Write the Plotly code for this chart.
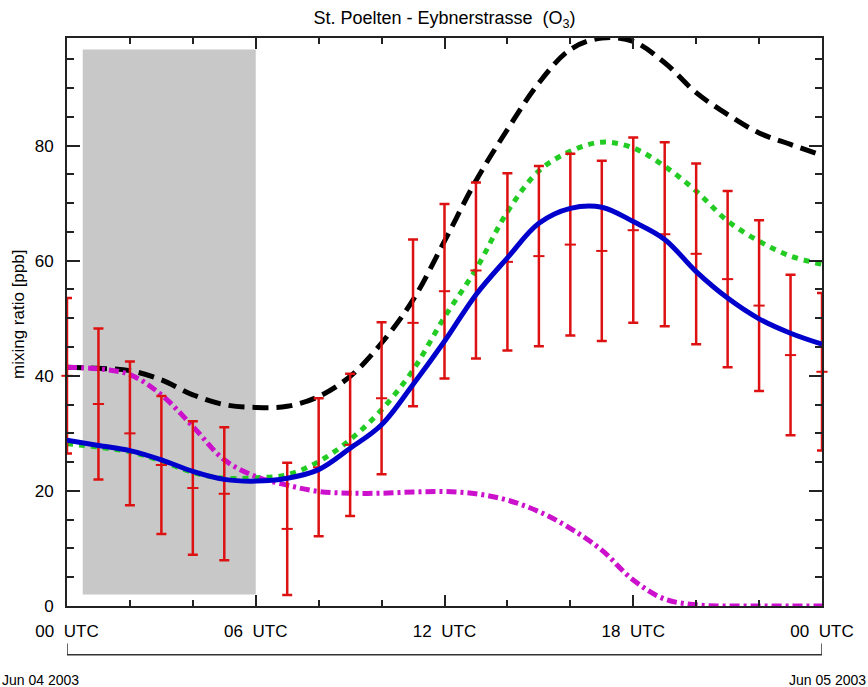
import plotly.graph_objects as go

# ---------------- data ----------------
hours = list(range(0, 25))

obs_mean = [40.0, 35.1, 30.0, 24.5, 20.5, 19.5, None, 13.4, 24.1, 28.0, 36.1, 49.2, 54.7,
            58.3, 59.8, 60.8, 62.8, 61.7, 65.3, 64.6, 61.2, 56.8, 52.2, 43.6, 40.7]
obs_sd = [13.5, 13.1, 12.5, 12.0, 11.6, 11.55, None, 11.5, 12.0, 12.35, 13.2, 14.5, 15.15,
          15.3, 15.4, 15.65, 15.8, 15.65, 16.1, 16.0, 15.7, 15.3, 14.85, 13.95, 13.7]

model_blue = [28.8, 27.9, 27.0, 25.4, 23.4, 22.0, 21.7, 22.2, 23.7, 27.4, 31.5, 38.5, 46.0,
              54.1, 60.5, 66.5, 69.1, 69.3, 66.8, 63.7, 58.1, 53.5, 49.9, 47.4, 45.5]
model_green = [28.2, 27.6, 26.8, 25.2, 23.2, 22.2, 22.3, 22.8, 25.1, 28.9, 34.1, 41.0, 50.2,
               58.5, 68.5, 75.6, 79.0, 80.6, 79.6, 76.4, 72.1, 66.9, 63.4, 60.8, 59.4]
model_black = [41.5, 41.3, 40.9, 39.3, 36.7, 35.0, 34.5, 34.7, 36.4, 39.9, 45.7, 53.2, 63.4,
               73.9, 82.8, 90.9, 96.7, 98.7, 98.1, 94.4, 89.2, 85.4, 82.2, 80.2, 78.3]
model_magenta = [41.5, 41.2, 40.2, 36.7, 31.2, 25.4, 22.5, 21.0, 19.9, 19.6, 19.6, 19.8, 19.9,
                 19.5, 18.4, 16.4, 13.5, 9.7, 4.5, 1.2, 0.2, 0.0, 0.0, 0.0, 0.0]

night_hours = [0.5, 6.0]
night_levels = [2.0, 96.7]

tick_hours = [0, 6, 12, 18, 24]
tick_text = ["00\u00a0 UTC", "06\u00a0 UTC", "12\u00a0 UTC", "18\u00a0 UTC", "00\u00a0 UTC"]
date_labels = ["Jun 04 2003", "Jun 05 2003"]

title = "St. Poelten - Eybnerstrasse\u00a0 (O<sub>3</sub>)"
ytitle = "mixing ratio [ppb]"

FONT = "Liberation Sans, Arial, Helvetica, sans-serif"

fig = go.Figure()

fig.add_shape(type="rect", xref="x", yref="y",
              x0=night_hours[0], x1=night_hours[1], y0=night_levels[0], y1=night_levels[1],
              fillcolor="#c8c8c8", line=dict(width=0), layer="below")

fig.add_trace(go.Scatter(x=hours, y=model_black, mode="lines", line_shape="spline",
                         line=dict(color="black", width=5, dash="16px,8px"), showlegend=False))
fig.add_trace(go.Scatter(x=hours, y=model_green, mode="lines", line_shape="spline",
                         line=dict(color="#22cc22", width=5, dash="6px,6px"), showlegend=False))
fig.add_trace(go.Scatter(x=hours, y=model_magenta, mode="lines", line_shape="spline",
                         line=dict(color="#cc11cc", width=5, dash="10px,4px,3px,4px"), showlegend=False))

fig.add_trace(go.Scatter(x=hours, y=obs_mean, mode="markers",
                         marker=dict(symbol="line-ew", size=8, color="#dd1111",
                                     line=dict(color="#dd1111", width=2)),
                         error_y=dict(type="data", array=obs_sd, visible=True,
                                      color="#dd1111", thickness=2.5, width=5),
                         cliponaxis=False, showlegend=False))

fig.add_trace(go.Scatter(x=hours, y=model_blue, mode="lines", line_shape="spline",
                         line=dict(color="#0000cc", width=5), showlegend=False))

# date bracket below the axis
fig.add_shape(type="line", xref="x", yref="paper", x0=hours[0], x1=hours[-1],
              y0=-0.086, y1=-0.086, line=dict(color="#333333", width=1.5))
for h in [hours[0], hours[-1]]:
    fig.add_shape(type="line", xref="x", yref="paper", x0=h, x1=h,
                  y0=-0.086, y1=-0.066, line=dict(color="#333333", width=1.5))

fig.add_annotation(x=hours[0], y=0, xref="x", yref="paper", yshift=-74, xshift=-27,
                   text=date_labels[0], showarrow=False, xanchor="center", yanchor="middle",
                   font=dict(family=FONT, size=14, color="black"))
fig.add_annotation(x=1.0, y=0, xref="paper", yref="paper", yshift=-74, xshift=46,
                   text=date_labels[1], showarrow=False, xanchor="right", yanchor="middle",
                   font=dict(family=FONT, size=14, color="black"))

fig.add_annotation(x=0, y=0.5, xref="paper", yref="paper", xshift=-49, yshift=7,
                   text=ytitle, textangle=-90, showarrow=False,
                   xanchor="center", yanchor="middle",
                   font=dict(family=FONT, size=17, color="black"))

axis_common = dict(showline=True, linecolor="#222222", linewidth=2, mirror="allticks",
                   ticks="inside", tickcolor="#222222", tickwidth=1.5, showgrid=False,
                   zeroline=False, automargin=False,
                   tickfont=dict(family=FONT, size=17, color="black"))

fig.update_xaxes(range=[0, 24], tickvals=tick_hours, ticktext=tick_text, ticklen=11,
                 ticklabelstandoff=9,
                 minor=dict(dtick=2, tick0=0, ticks="inside", ticklen=6, tickcolor="#222222",
                            tickwidth=1.5, showgrid=False),
                 **axis_common)
fig.update_yaxes(range=[0, 98.7], tickvals=[0, 20, 40, 60, 80], ticklen=13,
                 ticklabelstandoff=8,
                 minor=dict(dtick=5, tick0=0, ticks="inside", ticklen=7, tickcolor="#222222",
                            tickwidth=1.5, showgrid=False),
                 **axis_common)

fig.update_layout(
    width=868, height=687,
    margin=dict(l=67, r=46, t=38, b=81),
    plot_bgcolor="white", paper_bgcolor="white",
    title=dict(text=title, x=(67 + 822) / 2 / 868, xanchor="center", y=1 - 18 / 687,
               yanchor="middle", font=dict(family=FONT, size=18, color="black")),
    showlegend=False,
)

fig.write_html("out.html", config={"displayModeBar": False},
               post_script="document.body.style.margin='0px';document.body.style.overflow='hidden';")
